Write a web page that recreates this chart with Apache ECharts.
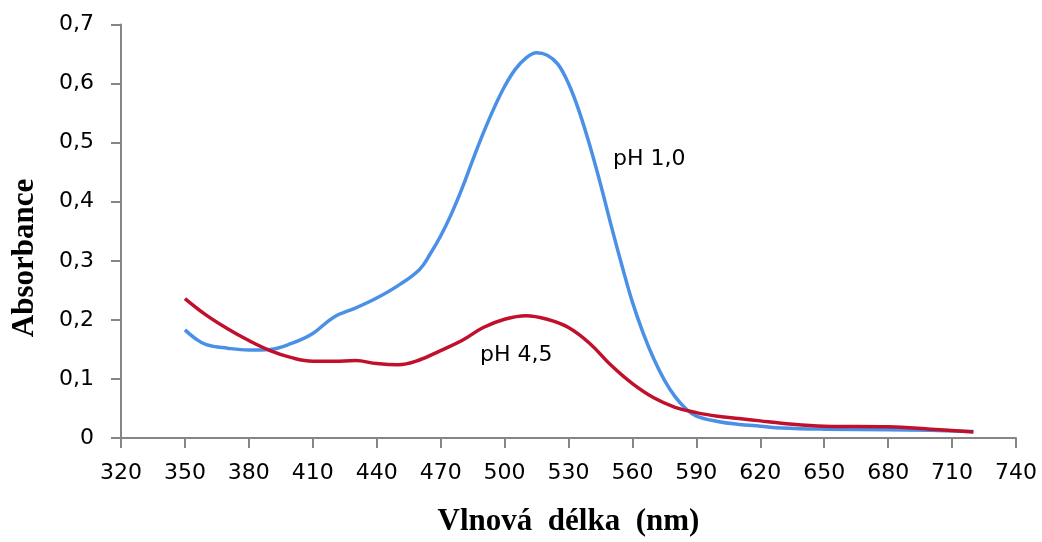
<!DOCTYPE html>
<html>
<head>
<meta charset="utf-8">
<script src="https://cdn.jsdelivr.net/npm/echarts@6/dist/echarts.min.js"></script>
<style>
html,body{margin:0;padding:0;background:#fff;}
#c{width:1042px;height:542px;}
</style>
</head>
<body>
<div id="c"></div>
<script>
// Wavelengths (nm) and absorbance values
var wlBlue = [350,355,360,370,380,390,400,410,420,430,440,450,460,465,470,475,480,485,490,495,500,505,510,515,520,525,530,535,540,545,550,555,560,565,570,575,580,585,590,600,610,620,630,650,680,700,720];
var absBlue = [0.183,0.168,0.158,0.152,0.149,0.150,0.160,0.177,0.205,0.220,0.237,0.258,0.285,0.311,0.342,0.379,0.422,0.470,0.516,0.558,0.595,0.624,0.643,0.652,0.648,0.633,0.600,0.553,0.495,0.430,0.360,0.293,0.230,0.178,0.134,0.098,0.070,0.050,0.037,0.028,0.023,0.020,0.017,0.015,0.014,0.013,0.011];
var wlRed = [350,360,370,380,390,400,410,420,430,440,450,460,470,480,490,500,510,520,530,540,550,560,570,580,590,600,610,620,630,650,680,700,720];
var absRed = [0.236,0.208,0.185,0.165,0.148,0.136,0.130,0.130,0.131,0.126,0.124,0.132,0.148,0.165,0.187,0.201,0.207,0.201,0.187,0.160,0.123,0.092,0.068,0.052,0.043,0.037,0.033,0.029,0.025,0.020,0.019,0.015,0.010];
var seriesNames = ['pH 1,0','pH 4,5'];
var xTitle = 'Vlnová  délka  (nm)';
var yTitle = 'Absorbance';

function pairs(xs, ys){ return xs.map(function(x,i){ return [x, ys[i]]; }); }

var chart = echarts.init(document.getElementById('c'), null, {renderer:'canvas'});
var axisGray = '#868686';
chart.setOption({
  animation:false,
  backgroundColor:'#ffffff',
  grid:{left:121, right:26, top:24.5, bottom:101, containLabel:false},
  xAxis:{
    type:'value', min:320, max:740, interval:30,
    name:xTitle, nameLocation:'middle', nameGap:68,
    nameTextStyle:{fontFamily:'Liberation Serif', fontWeight:'bold', fontSize:31, color:'#000'},
    axisLine:{show:true, onZero:false, lineStyle:{color:axisGray, width:2}},
    axisTick:{show:true, length:10, lineStyle:{color:axisGray, width:2}},
    axisLabel:{margin:24, fontFamily:'DejaVu Sans', fontSize:22, color:'#000'},
    splitLine:{show:false}
  },
  yAxis:{
    type:'value', min:0, max:0.7, interval:0.1,
    axisLine:{show:true, lineStyle:{color:axisGray, width:2}},
    axisTick:{show:true, length:10, lineStyle:{color:axisGray, width:2}},
    axisLabel:{margin:27, fontFamily:'DejaVu Sans', fontSize:22, color:'#000',
      formatter:function(v){ return (Math.round(v*10)/10).toString().replace('.',','); }},
    splitLine:{show:false}
  },
  graphic:[
    {type:'text', x:25, y:258, rotation:Math.PI/2,
     style:{text:yTitle, font:'bold 31px "Liberation Serif"', fill:'#000', align:'center', verticalAlign:'middle'}},
    {type:'text', x:613, y:159,
     style:{text:seriesNames[0], font:'22px "DejaVu Sans"', fill:'#000', align:'left', verticalAlign:'middle'}},
    {type:'text', x:480, y:355,
     style:{text:seriesNames[1], font:'22px "DejaVu Sans"', fill:'#000', align:'left', verticalAlign:'middle'}}
  ],
  series:[
    {name:seriesNames[0], type:'line', data:pairs(wlBlue, absBlue), smooth:0.4, showSymbol:false,
     lineStyle:{color:'#4a90e6', width:3.5}, itemStyle:{color:'#4a90e6'}},
    {name:seriesNames[1], type:'line', data:pairs(wlRed, absRed), smooth:0.4, showSymbol:false,
     lineStyle:{color:'#c0102c', width:3.5}, itemStyle:{color:'#c0102c'}}
  ]
});
</script>
</body>
</html>
